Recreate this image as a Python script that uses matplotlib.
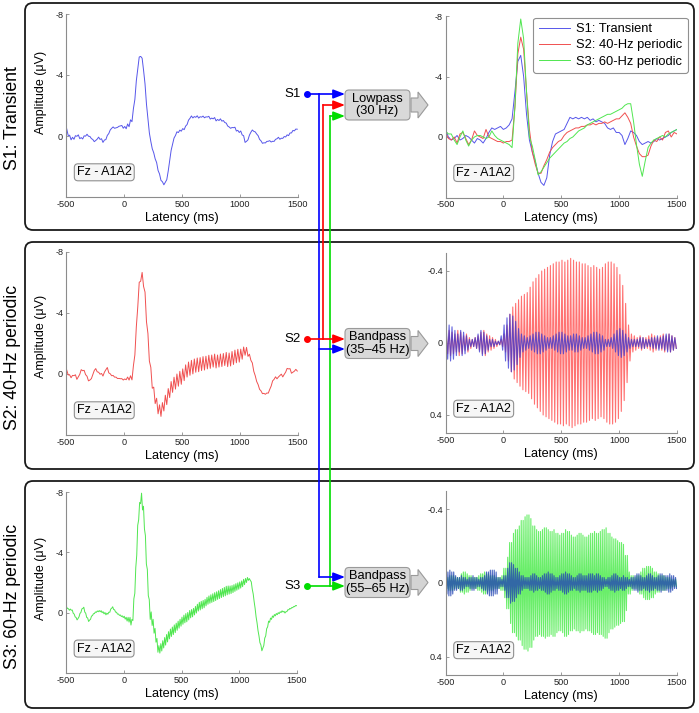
import numpy as np
import matplotlib
matplotlib.use("Agg")
import matplotlib.pyplot as plt
from matplotlib.patches import FancyBboxPatch, Polygon

plt.rcParams['font.family'] = ['Liberation Sans', 'DejaVu Sans']
plt.rcParams['axes.unicode_minus'] = False

# ---------------- data ----------------
latency_lp = np.arange(-500, 1501, 25)          # ms, 81 samples

# 30-Hz lowpass ERPs (µV, negative up)
lp_s1 = [-0.5, 0.0, 0.2, 0.1, -0.1, 0.2, 0.1, -0.1,
         0.0, 0.2, 0.4, 0.1, 0.2, 0.4, 0.1, -0.3,
         -0.6, -0.5, -0.6, -0.7, -0.5, -0.6, -0.8, -1.2,
         -3.0, -5.0, -5.4, -4.0, -1.5, 0.2, 1.0, 1.6,
         2.4, 3.0, 3.2, 2.7, 1.2, 0.3, -0.2, -0.3,
         -0.4, -0.5, -0.9, -1.3, -1.2, -1.3, -1.2, -1.3,
         -1.2, -1.3, -1.1, -1.2, -1.0, -1.1, -1.0, -0.9,
         -0.6, -0.5, -0.6, -0.3, -0.3, -0.1, 0.5, 0.1,
         -0.4, -0.3, -0.1, 0.3, 0.5, 0.4, 0.3, 0.4,
         0.3, 0.1, 0.2, 0.1, 0.0, -0.1, -0.3, -0.4,
         -0.5]
lp_s2 = [-0.3, 0.1, 0.2, 0.0, 0.4, -0.2, -0.3, 0.1,
         0.5, 0.2, -0.4, -0.1, 0.0, 0.1, -0.5, 0.0,
         0.1, 0.2, 0.3, 0.3, 0.4, 0.3, 0.3, 0.2,
         -2.0, -5.5, -6.6, -5.8, -3.0, -0.5, 1.0, 1.8,
         2.4, 2.4, 1.9, 1.5, 1.0, 0.7, 0.5, 0.3,
         0.2, -0.1, -0.3, -0.4, -0.5, -0.6, -0.6, -0.7,
         -0.7, -0.8, -0.8, -0.9, -0.8, -0.9, -0.9, -1.0,
         -0.9, -1.0, -1.1, -1.2, -1.2, -1.4, -1.6, -1.3,
         -0.9, 0.0, 0.6, 1.1, 1.3, 1.3, 1.2, 0.6,
         0.2, 0.3, 0.0, 0.2, -0.3, -0.4, 0.0, -0.3,
         -0.2]
lp_s3 = [-0.4, -0.2, -0.2, 0.2, 0.5, 0.0, -0.4, 0.2,
         0.6, 0.2, 0.0, -0.1, -0.1, 0.0, 0.1, 0.0,
         -0.4, -0.1, 0.1, 0.2, 0.3, 0.4, 0.5, 0.7,
         -2.0, -6.2, -7.8, -6.5, -3.0, 0.0, 0.6, 1.5,
         2.5, 2.3, 2.0, 1.7, 1.4, 1.2, 1.0, 0.8,
         0.6, 0.4, 0.3, 0.1, 0.0, -0.2, -0.4, -0.5,
         -0.6, -0.8, -0.9, -1.0, -1.1, -1.2, -1.3, -1.4,
         -1.5, -1.5, -1.6, -1.7, -1.8, -1.9, -2.1, -2.2,
         -2.2, -1.0, 0.5, 1.8, 2.6, 1.6, 0.7, 0.4,
         0.2, 0.1, 0.0, -0.1, 0.0, -0.2, -0.3, -0.4,
         -0.5]

# band-pass envelopes (µV), one value per 25-ms bin from -500 ms
env40_s2 = [0.06, 0.07, 0.06, 0.05, 0.07, 0.06, 0.04, 0.05,
            0.03, 0.02, 0.03, 0.04, 0.06, 0.07, 0.05, 0.04,
            0.03, 0.02, 0.01, 0.02, 0.05, 0.10, 0.16, 0.20,
            0.22, 0.24, 0.26, 0.27, 0.28, 0.31, 0.34, 0.36,
            0.38, 0.40, 0.41, 0.42, 0.43, 0.44, 0.45, 0.45,
            0.46, 0.45, 0.46, 0.47, 0.46, 0.45, 0.45, 0.44,
            0.44, 0.43, 0.42, 0.43, 0.42, 0.41, 0.42, 0.44,
            0.45, 0.45, 0.44, 0.42, 0.38, 0.32, 0.22, 0.10,
            0.05, 0.04, 0.03, 0.04, 0.03, 0.03, 0.04, 0.05,
            0.04, 0.03, 0.04, 0.05, 0.04, 0.05, 0.04, 0.03]
env40_s1 = [0.09, 0.10, 0.09, 0.07, 0.05, 0.07, 0.06, 0.04,
            0.02, 0.02, 0.03, 0.05, 0.07, 0.06, 0.04, 0.02,
            0.02, 0.01, 0.01, 0.04, 0.10, 0.14, 0.16, 0.15,
            0.12, 0.08, 0.05, 0.04, 0.03, 0.04, 0.05, 0.06,
            0.06, 0.05, 0.04, 0.03, 0.03, 0.04, 0.05, 0.06,
            0.06, 0.05, 0.04, 0.04, 0.05, 0.05, 0.04, 0.03,
            0.03, 0.04, 0.05, 0.06, 0.06, 0.05, 0.04, 0.02,
            0.02, 0.03, 0.05, 0.07, 0.08, 0.07, 0.05, 0.03,
            0.02, 0.02, 0.02, 0.03, 0.03, 0.02, 0.02, 0.03,
            0.03, 0.04, 0.03, 0.04, 0.05, 0.05, 0.04, 0.03]
env60_s3 = [0.03, 0.04, 0.04, 0.03, 0.03, 0.05, 0.06, 0.05,
            0.04, 0.03, 0.03, 0.04, 0.05, 0.06, 0.05, 0.04,
            0.04, 0.03, 0.03, 0.04, 0.08, 0.14, 0.22, 0.27,
            0.29, 0.31, 0.34, 0.36, 0.37, 0.35, 0.31, 0.29,
            0.28, 0.29, 0.30, 0.29, 0.28, 0.29, 0.27, 0.26,
            0.27, 0.29, 0.28, 0.26, 0.25, 0.26, 0.27, 0.26,
            0.25, 0.26, 0.27, 0.28, 0.27, 0.28, 0.29, 0.30,
            0.27, 0.25, 0.24, 0.23, 0.22, 0.21, 0.15, 0.06,
            0.04, 0.03, 0.04, 0.06, 0.08, 0.09, 0.09, 0.08,
            0.06, 0.05, 0.04, 0.04, 0.03, 0.03, 0.02, 0.02]
env60_s1 = [0.06, 0.07, 0.06, 0.04, 0.03, 0.04, 0.03, 0.02,
            0.03, 0.04, 0.03, 0.02, 0.03, 0.04, 0.06, 0.07,
            0.07, 0.06, 0.03, 0.02, 0.04, 0.08, 0.11, 0.10,
            0.08, 0.06, 0.04, 0.03, 0.03, 0.04, 0.05, 0.04,
            0.03, 0.04, 0.05, 0.06, 0.05, 0.04, 0.03, 0.04,
            0.05, 0.06, 0.05, 0.04, 0.03, 0.04, 0.05, 0.04,
            0.04, 0.05, 0.05, 0.04, 0.05, 0.04, 0.03, 0.02,
            0.03, 0.04, 0.05, 0.04, 0.03, 0.04, 0.03, 0.02,
            0.03, 0.04, 0.05, 0.04, 0.03, 0.04, 0.05, 0.04,
            0.03, 0.04, 0.05, 0.04, 0.04, 0.05, 0.04, 0.03]

xticks = [-500, 0, 500, 1000, 1500]
row_labels = ["S1: Transient", "S2: 40-Hz periodic", "S3: 60-Hz periodic"]
legend_labels = ["S1: Transient", "S2: 40-Hz periodic", "S3: 60-Hz periodic"]
filter_labels = ["Lowpass\n(30 Hz)", "Bandpass\n(35\u201345 Hz)", "Bandpass\n(55\u201365 Hz)"]
channel = "Fz - A1A2"

# ---------------- helpers ----------------
def oscillation(env, freq):
    half = 500.0 / freq
    n = int(round(2000 / half))
    t = -500 + half * np.arange(n) + half / 2
    idx = np.clip(((t + 500) // 25).astype(int), 0, len(env) - 1)
    sign = np.where(np.arange(n) % 2 == 0, -1.0, 1.0)
    return t, np.asarray(env)[idx] * sign

t40, b40_s2 = oscillation(env40_s2, 40)
_, b40_s1 = oscillation(env40_s1, 40)
t60, b60_s3 = oscillation(env60_s3, 60)
_, b60_s1 = oscillation(env60_s1, 60)

raw_s1 = np.interp(t40, latency_lp, lp_s1) + b40_s1
raw_s2 = np.interp(t40, latency_lp, lp_s2) + b40_s2
raw_s3 = np.interp(t60, latency_lp, lp_s3) + b60_s3

BLUE, RED, GREEN = '#5656ea', '#f05050', '#50e650'

W, H = 699, 713
fig = plt.figure(figsize=(W / 100, H / 100), dpi=100)

def add_ax(x0, x1, yt, yb):
    return fig.add_axes([x0 / W, 1 - yb / H, (x1 - x0) / W, (yb - yt) / H])

def style(ax, ylim, yticks, ylab_frac=None):
    ax.set_xlim(-500, 1500)
    ax.set_ylim(*ylim)
    ax.set_xticks(xticks)
    ax.set_yticks(yticks)
    ax.set_yticklabels([('%g' % v) for v in yticks])
    for s in ['top', 'right']:
        ax.spines[s].set_visible(False)
    for s in ['left', 'bottom']:
        ax.spines[s].set_color('#8c8c8c')
        ax.spines[s].set_linewidth(0.8)
    ax.tick_params(direction='in', length=2.5, width=0.6, color='#8c8c8c',
                   labelsize=6.6, pad=2, labelcolor='#222222')
    ax.set_xlabel('Latency (ms)', fontsize=9.2, labelpad=2)
    if ylab_frac is not None:
        ax.set_ylabel('Amplitude (\u03bcV)', fontsize=9, va='center')
        ax.yaxis.set_label_coords(-25 / 232, ylab_frac)
    ax.text(0.165, 0.135, channel, transform=ax.transAxes, ha='center', va='center',
            fontsize=9, bbox=dict(boxstyle='round,pad=0.2,rounding_size=0.3',
                                  fc='#f6f6f6', ec='#909090', lw=0.8))

# left raw panels
ax1 = add_ax(66, 298, 14, 197)
ax1.plot(t40, raw_s1, color=BLUE, lw=0.7)
style(ax1, (4, -8), [-8, -4, 0], 0.57)

ax2 = add_ax(66, 298, 252, 435)
ax2.plot(t40, raw_s2, color=RED, lw=0.7)
style(ax2, (4, -8), [-8, -4, 0], 0.54)

ax3 = add_ax(66, 297, 492, 673)
ax3.plot(t60, raw_s3, color=GREEN, lw=0.7)
style(ax3, (4, -8), [-8, -4, 0], 0.525)

# right filtered panels
ax4 = add_ax(445.5, 677, 16, 197.5)
h1, = ax4.plot(latency_lp, lp_s1, color=BLUE, lw=0.7)
h2, = ax4.plot(latency_lp, lp_s2, color=RED, lw=0.7)
h3, = ax4.plot(latency_lp, lp_s3, color=GREEN, lw=0.7)
style(ax4, (4, -8), [-8, -4, 0])
leg = ax4.legend([h1, h2, h3], legend_labels, loc='upper right',
                 bbox_to_anchor=(1.047, 0.99), borderaxespad=0, fontsize=9.3,
                 handlelength=2.4, handletextpad=0.5, labelspacing=0.32,
                 borderpad=0.42, fancybox=True, framealpha=1)
leg.get_frame().set_edgecolor('#909090')
leg.get_frame().set_linewidth(0.8)

ax5 = add_ax(445.5, 677, 253, 433)
ax5.plot(t40, b40_s2, color='#ff7272', lw=0.8)
ax5.plot(t40, b40_s1, color='#3434d4', lw=0.8, alpha=0.75)
style(ax5, (0.5, -0.5), [-0.4, 0, 0.4])

ax6 = add_ax(445.5, 677, 491, 675)
ax6.plot(t60, b60_s3, color='#6aee6a', lw=0.8)
ax6.plot(t60, b60_s1, color='#2446b4', lw=0.8, alpha=0.8)
style(ax6, (0.5, -0.5), [-0.4, 0, 0.4])

# ---------------- overlay: frames, labels, flow diagram ----------------
ov = fig.add_axes([0, 0, 1, 1], zorder=10)
ov.set_xlim(0, W)
ov.set_ylim(H, 0)
ov.axis('off')
ov.patch.set_alpha(0)

frames = [(3, 230), (242, 469), (481, 708)]
for (yt, yb), lab in zip(frames, row_labels):
    ov.add_patch(FancyBboxPatch((25, yt), 669, yb - yt,
                                boxstyle='round,pad=0,rounding_size=8',
                                fc='none', ec='#1a1a1a', lw=1.3))
    ov.text(13, (yt + yb) / 2 + 2, lab, rotation=90, ha='center', va='center',
            fontsize=12.7)

# filter boxes
box_centers = [105, 343.5, 582.5]
for yc, lab in zip(box_centers, filter_labels):
    ov.add_patch(FancyBboxPatch((345, yc - 15), 65, 30,
                                boxstyle='round,pad=0,rounding_size=4',
                                fc='#d9d9d9', ec='#9a9a9a', lw=0.8))
    ov.add_patch(Polygon([(411, yc - 7), (418, yc - 7), (418, yc - 13), (428, yc),
                          (418, yc + 13), (418, yc + 7), (411, yc + 7)],
                         closed=True, fc='#d4d4d4', ec='#9a9a9a', lw=0.8))
    ov.text(377.5, yc, lab, ha='center', va='center', fontsize=9.3, linespacing=1.1)

LB, LR, LG = '#0000ff', '#ff0000', '#00dd00'

def arrow(x0, x1, y, c):
    ov.annotate('', xy=(x1, y), xytext=(x0, y),
                arrowprops=dict(arrowstyle='-|>,head_length=0.7,head_width=0.27',
                                color=c, lw=1.2, shrinkA=0, shrinkB=0,
                                mutation_scale=10))

# S1 (blue)
ov.plot([319, 319], [94, 577], color=LB, lw=1.2)
arrow(307, 345, 94, LB)
arrow(319, 345, 349, LB)
arrow(319, 345, 577, LB)
# S2 (red)
ov.plot([323, 323], [339, 105], color=LR, lw=1.2)
arrow(307, 345, 339, LR)
arrow(323, 345, 105, LR)
# S3 (green)
ov.plot([330, 330], [586, 116], color=LG, lw=1.2)
arrow(307, 345, 586, LG)
arrow(330, 345, 116, LG)

for y, c, lab in [(94, LB, 'S1'), (339, LR, 'S2'), (586, LG, 'S3')]:
    ov.plot([307], [y], 'o', color=c, ms=4)
    ov.text(301, y, lab, ha='right', va='center', fontsize=9.5)

fig.savefig('out.png', dpi=100)
